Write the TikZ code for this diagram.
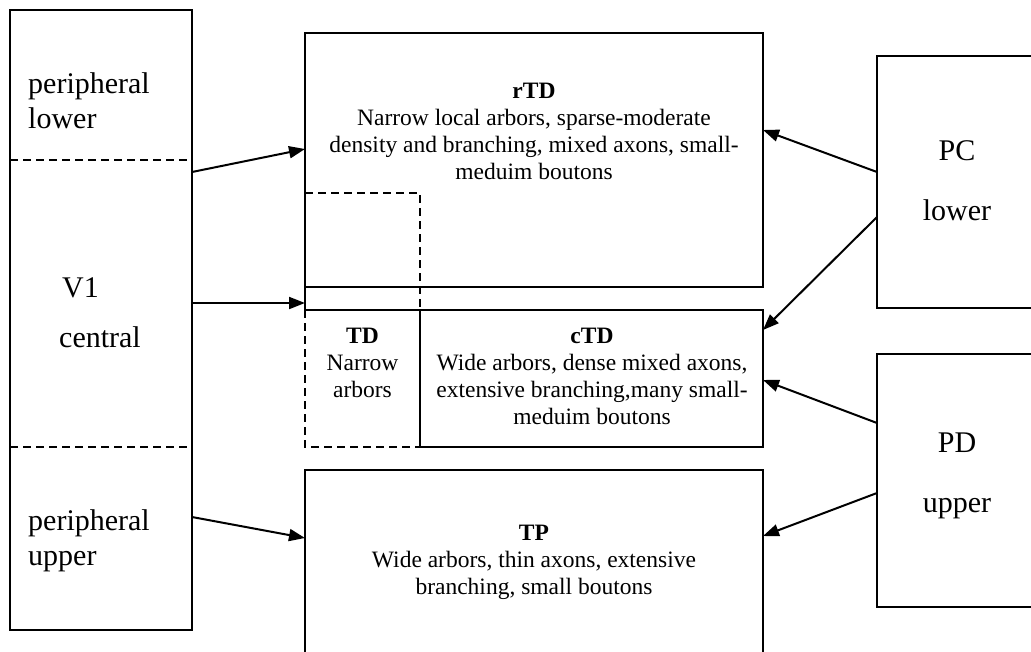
\documentclass[tikz,border=0pt]{standalone}
\usepackage{fontspec}
\setmainfont{Liberation Serif}
\usetikzlibrary{arrows.meta}
\begin{document}
\begin{tikzpicture}[x=1pt,y=-1pt,
  box/.style={draw, line width=2.8pt, inner sep=0pt, outer sep=0pt, rectangle},
  ghost/.style={draw=none, inner sep=0pt, outer sep=0pt, rectangle},
  dashline/.style={line width=2.6pt, dash pattern=on 8pt off 5pt},
  solidline/.style={line width=2.8pt},
  arr/.style={line width=2pt, -{Triangle[length=16pt,width=12pt]}},
  small/.style={font=\fontsize{23.5}{27}\selectfont, inner sep=0pt, anchor=base},
  smallb/.style={font=\fontsize{23.5}{27}\selectfont\bfseries, inner sep=0pt, anchor=base},
  big/.style={font=\fontsize{30}{35}\selectfont, inner sep=0pt, anchor=base}
]
\fill[white] (0,0) rectangle (1031,651);
\useasboundingbox (0,0) rectangle (1031,651);

% boxes
\node[box, minimum width=182pt, minimum height=620pt] (V1) at (101,320) {};
\node[box, minimum width=458pt, minimum height=254pt] (rTD) at (534,160) {};
\node[box, minimum width=343pt, minimum height=137pt] (cTD) at (591.5,378.5) {};
\node[box, minimum width=458pt, minimum height=210pt] (TP) at (534,575) {};
\node[box, minimum width=168pt, minimum height=252pt] (PC) at (961,182) {};
\node[box, minimum width=168pt, minimum height=253pt] (PD) at (961,480.5) {};

% TD region, outlined dashed where no solid line runs
\node[ghost, minimum width=115pt, minimum height=254pt] (TD) at (362.5,320) {};
\draw[dashline] (TD.north west) -- (TD.north east) -- (TD.east |- cTD.north);
\draw[dashline] (TD.west |- cTD.north) -- (TD.south west) -- (TD.south east);

% joining segment between rTD and cTD
\draw[solidline] (rTD.south west) -- (rTD.west |- cTD.north) -- (cTD.north west);

% V1 dashed separators
\draw[dashline] (V1.west |- 0,160) -- (V1.east |- 0,160);
\draw[dashline] (V1.west |- 0,447) -- (V1.east |- 0,447);

% V1 texts
\node[big, anchor=base west] (pl1) at (28,93) {peripheral};
\node[big, anchor=base west] (pl2) at (28,128) {lower};
\node[big, anchor=base west] (v1a) at (62,297) {V1};
\node[big, anchor=base west] (v1b) at (59,347) {central};
\node[big, anchor=base west] (pu1) at (28,530) {peripheral};
\node[big, anchor=base west] (pu2) at (28,565) {upper};

% rTD texts
\node[smallb] (r0) at (534,98) {rTD};
\node[small] (r1) at (534,125.5) {Narrow local arbors, sparse-moderate};
\node[small] (r2) at (534,152.5) {density and branching, mixed axons, small-};
\node[small] (r3) at (534,179.5) {meduim boutons};

% TD texts
\node[smallb] (t0) at (362.5,343) {TD};
\node[small] (t1) at (362.5,370) {Narrow};
\node[small] (t2) at (362.5,397) {arbors};

% cTD texts
\node[smallb] (c0) at (592,343) {cTD};
\node[small] (c1) at (592,370) {Wide arbors, dense mixed axons,};
\node[small] (c2) at (592,397) {extensive branching,many small-};
\node[small] (c3) at (592,424) {meduim boutons};

% TP texts
\node[smallb] (p0) at (534,540) {TP};
\node[small] (p1) at (534,567) {Wide arbors, thin axons, extensive};
\node[small] (p2) at (534,594) {branching, small boutons};

% PC / PD texts
\node[big] (pc1) at (957,160) {PC};
\node[big] (pc2) at (957,220) {lower};
\node[big] (pd1) at (957,452) {PD};
\node[big] (pd2) at (957,512) {upper};

% connectors
\draw[arr] (V1.east |- 0,172) -- (rTD.west |- 0,149);
\draw[arr] (V1.east |- 0,303) -- (rTD.west |- 0,303);
\draw[arr] (V1.east |- 0,517) -- (TP.west |- 0,538);
\draw[arr] (PC.west |- 0,172) -- (rTD.east |- 0,130);
\draw[arr] (PC.west |- 0,217) -- (cTD.east |- 0,330);
\draw[arr] (PD.west |- 0,423) -- (cTD.east |- 0,380);
\draw[arr] (PD.west |- 0,493) -- (TP.east |- 0,536);
\end{tikzpicture}
\end{document}
